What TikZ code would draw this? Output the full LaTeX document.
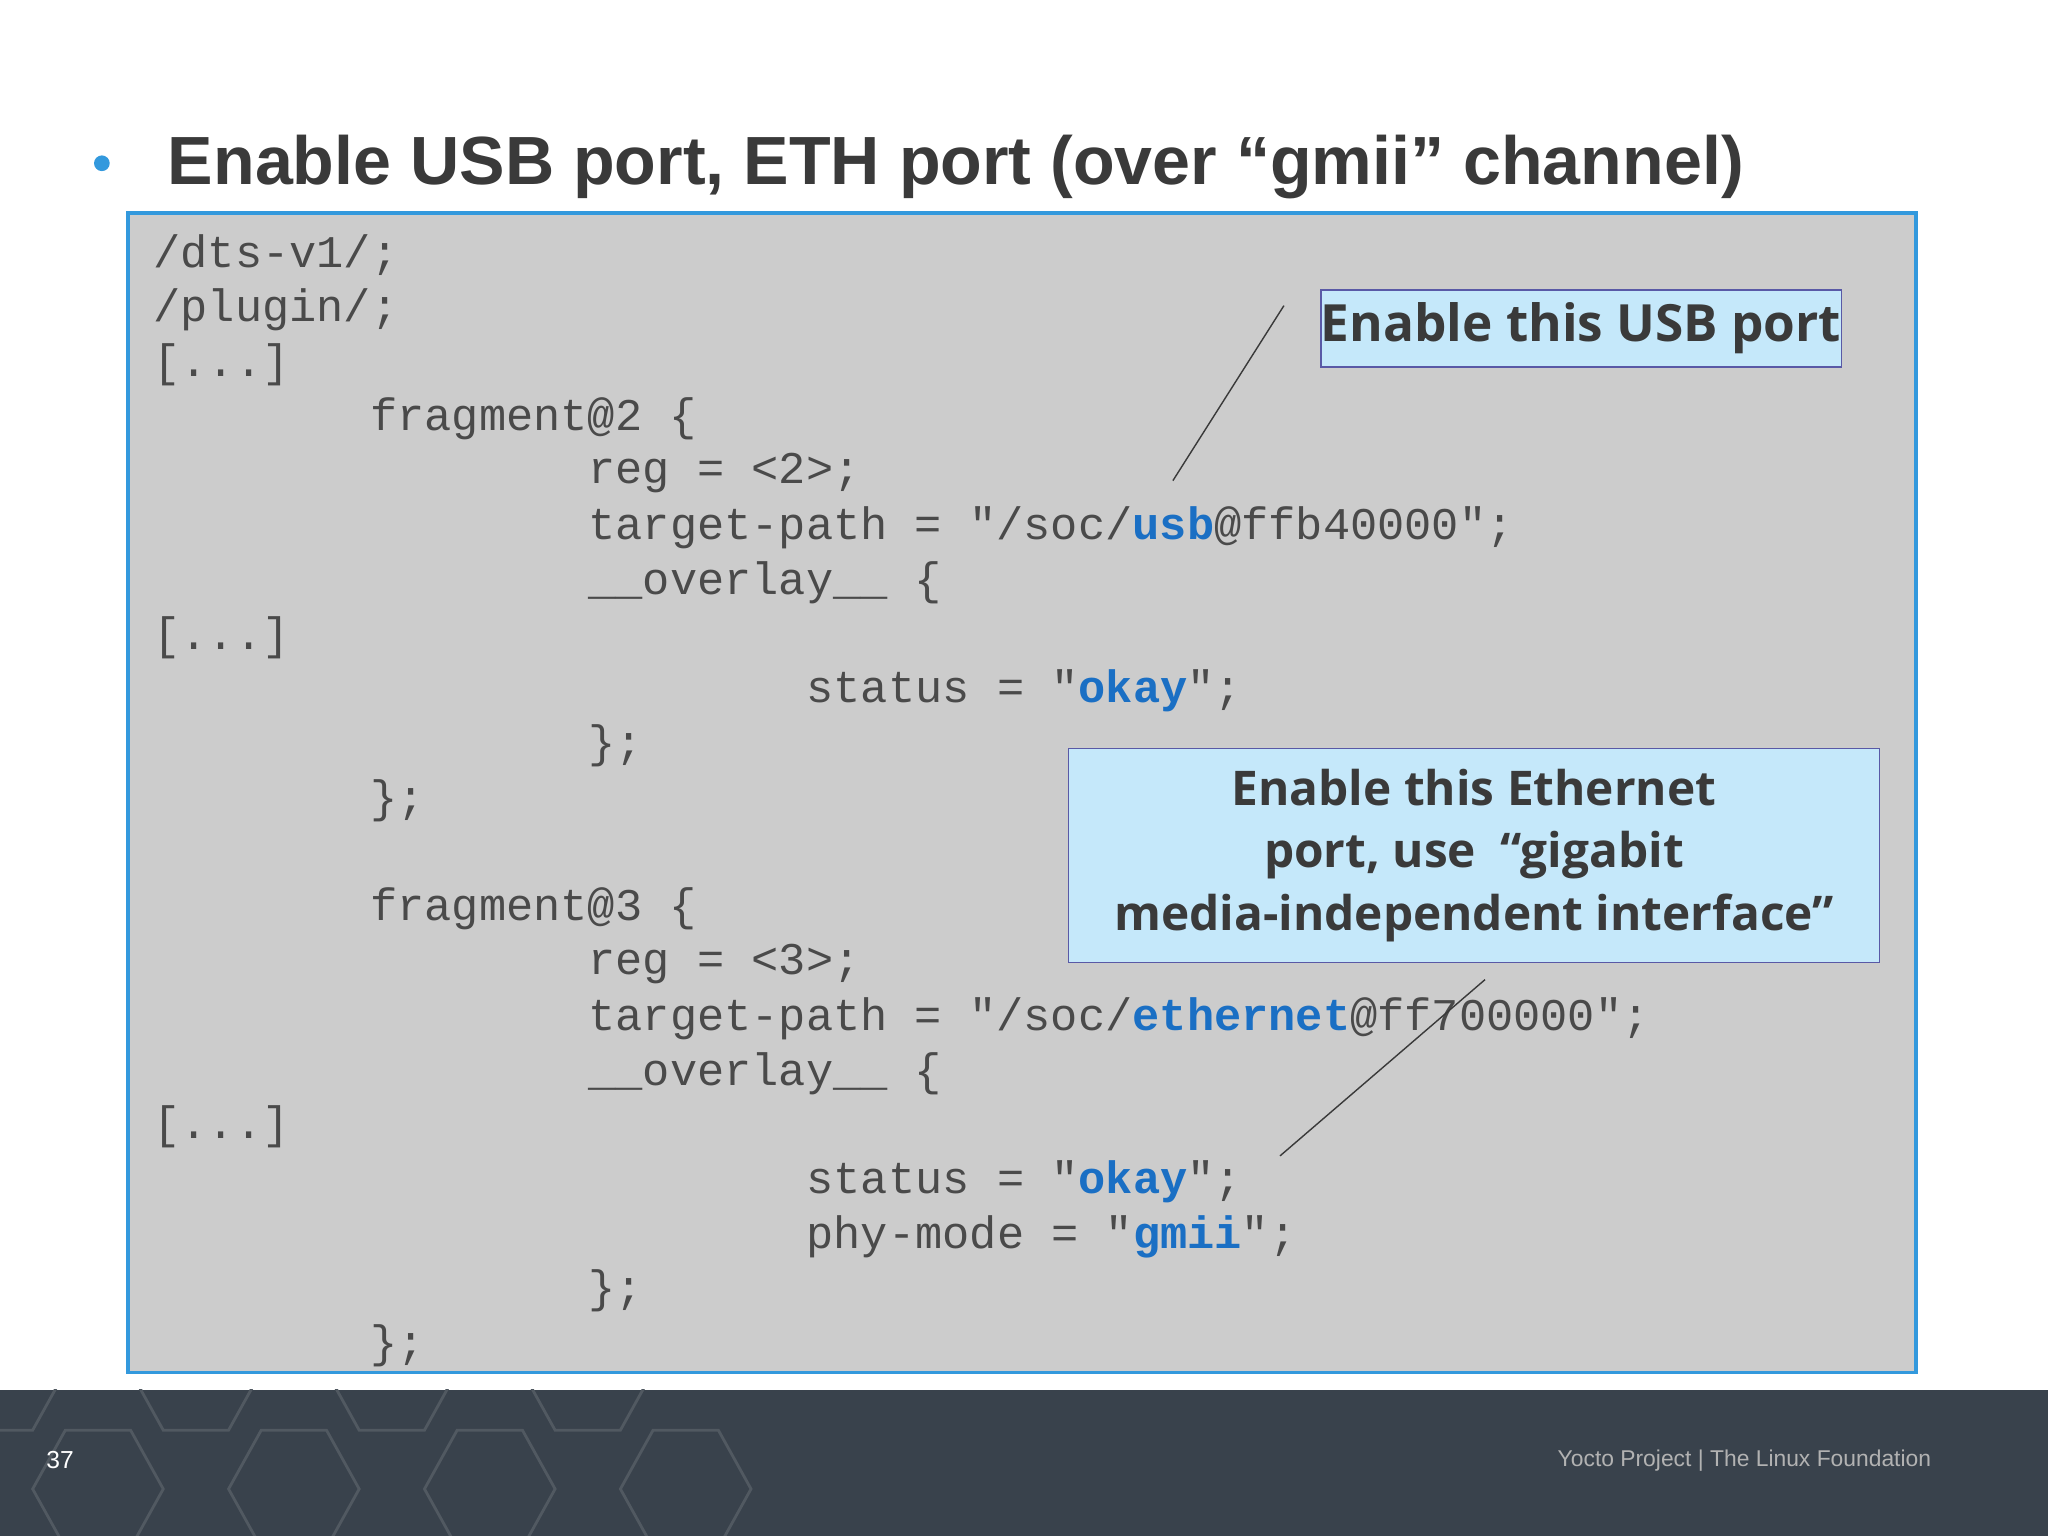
\documentclass[tikz,border=0pt]{standalone}
\usepackage{fontspec}
\setmainfont{Liberation Sans}
\newfontfamily\codefont{Liberation Mono}
\newfontfamily\notefont{Open Sans}
\definecolor{codegray}{HTML}{CCCCCC}
\definecolor{boxblue}{HTML}{3399DD}
\definecolor{codetext}{HTML}{4A4A4A}
\definecolor{kw}{HTML}{1A6FC4}
\definecolor{notefill}{HTML}{C5E8FA}
\definecolor{footer}{HTML}{39424C}
\definecolor{titlec}{HTML}{3A3A3A}
\tikzset{
  code/.style={anchor=west,inner sep=0pt,font=\codefont\fontsize{12.9pt}{14pt}\selectfont,text=codetext},
  note/.style={draw=gray!70!blue,fill=notefill,font=\notefont\bfseries\fontsize{14.6pt}{18pt}\selectfont,text=titlec,align=center,inner sep=0pt},
  hex/.style={draw=white!12!footer,line width=0.8pt}
}
\newcommand{\kwd}[1]{\textcolor{kw}{\textbf{#1}}}
\begin{document}
\begin{tikzpicture}[x=0.013061cm,y=-0.013061cm]
\useasboundingbox (0,0) rectangle (1568,1176);
\fill[white] (0,0) rectangle (1568,1176);
% footer
\fill[footer] (0,1064) rectangle (1568,1176);
\begin{scope}
\clip (0,1064) rectangle (1568,1176);
\foreach \cx/\cy in {0/1050,150/1050,300/1050,450/1050,75/1140,225/1140,375/1140,525/1140}{
  \draw[hex] (\cx-50,\cy) -- (\cx-25,\cy-45) -- (\cx+25,\cy-45) -- (\cx+50,\cy) -- (\cx+25,\cy+45) -- (\cx-25,\cy+45) -- cycle;
}
\end{scope}
\node[text=white,font=\fontsize{7pt}{8pt}\selectfont] (pg) at (46,1118) {37};
\node[anchor=east,text=gray!60,font=\fontsize{6.5pt}{8pt}\selectfont] (ft) at (1488,1118) {Yocto Project | The Linux Foundation};
% title
\fill[boxblue] (78,125) circle (6);
\node[anchor=west,inner sep=0pt,text=titlec,font=\bfseries\fontsize{19.4pt}{24pt}\selectfont] (title) at (128,128) {Enable USB port, ETH port (over “gmii” channel)};
% code box
\draw[boxblue,fill=codegray,line width=1pt] (98,163) rectangle (1467,1051);
\node[code] (l1) at (117,195) {/dts-v1/;};
\node[code] (l2) at (117,237) {/plugin/;};
\node[code] (l3) at (117,279) {[...]};
\node[code] (l4) at (283,321) {fragment@2 \{};
\node[code] (l5) at (450,362) {reg = <2>;};
\node[code] (l6) at (450,404) {target-path = "/soc/\kwd{usb}@ffb40000";};
\node[code] (l7) at (450,446) {\_\_overlay\_\_ \{};
\node[code] (l8) at (117,488) {[...]};
\node[code] (l9) at (617,529) {status = "\kwd{okay}";};
\node[code] (l10) at (450,571) {\};};
\node[code] (l11) at (283,613) {\};};
\node[code] (l12) at (283,696) {fragment@3 \{};
\node[code] (l13) at (450,738) {reg = <3>;};
\node[code] (l14) at (450,780) {target-path = "/soc/\kwd{ethernet}@ff700000";};
\node[code] (l15) at (450,822) {\_\_overlay\_\_ \{};
\node[code] (l16) at (117,863) {[...]};
\node[code] (l17) at (617,905) {status = "\kwd{okay}";};
\node[code] (l18) at (617,947) {phy-mode = "\kwd{gmii}";};
\node[code] (l19) at (450,988) {\};};
\node[code] (l20) at (283,1030) {\};};
% notes
\node[note,minimum width=389*0.013061cm,minimum height=59*0.013061cm] (n1) at (1210.5,251.5) {Enable this USB port};
\node[note,font=\notefont\bfseries\fontsize{13.6pt}{17.8pt}\selectfont,minimum width=621*0.013061cm,minimum height=164*0.013061cm] (n2) at (1128.5,655) {Enable this Ethernet\\port, use~ “gigabit\\media-independent interface”};
\coordinate (a1) at (983,234);
\coordinate (a2) at (898,368);
\coordinate (b1) at (1137,750);
\coordinate (b2) at (980,885);
\draw[titlec,line width=0.4pt] (a1) -- (a2);
\draw[titlec,line width=0.4pt] (b1) -- (b2);
\end{tikzpicture}
\end{document}
